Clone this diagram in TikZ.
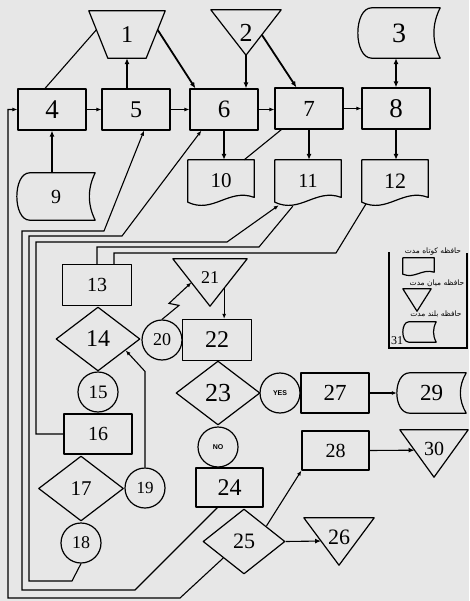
\documentclass[tikz,border=0pt]{standalone}
\usepackage{fontspec}
\setmainfont{Liberation Serif}
\newfontfamily\yesnofont{Liberation Sans}
\newfontfamily\persianfont[Script=Arabic]{DejaVu Sans}
\TeXXeTstate=1
\usetikzlibrary{arrows.meta,calc,shapes.geometric}
\definecolor{paper}{RGB}{231,231,231}
\newcommand{\fs}[1]{\fontsize{#1}{#1}\selectfont}
% outlines for the shapes that tikz does not have
\newcommand{\storage}[2]{%
  \draw[outline] ($(#1.north west)+(#2,0)$) -- (#1.north east)
    .. controls ($(#1.north east)!0.33!(#1.south east)+(-0.6*#2,0)$)
       and ($(#1.north east)!0.67!(#1.south east)+(-0.6*#2,0)$) .. (#1.south east)
    -- ($(#1.south west)+(#2,0)$)
    .. controls ($(#1.south west)+(-0.33*#2,0)$)
       and ($(#1.north west)+(-0.33*#2,0)$) .. cycle;}
\newcommand{\docshape}[2]{%
  \draw[outline] (#1.south west) -- (#1.north west) -- (#1.north east)
    -- ($(#1.south east)+(0,-0.4*#2)$)
    .. controls ($(#1.south west)!0.62!(#1.south east)+(0,-1.2*#2)$)
       and ($(#1.south west)!0.38!(#1.south east)+(0,#2)$) .. cycle;}
\newcommand{\tridown}[1]{%
  \draw[outline] (#1.north west) -- (#1.north east) -- (#1.south) -- cycle;}

\tikzset{
  outline/.style={line width=1.2pt, line join=round},
  blk/.style={draw, outline, minimum width=68pt, minimum height=41pt, inner sep=0pt},
  dec/.style={diamond, draw, outline, minimum width=84pt, minimum height=64pt, inner sep=0pt},
  con/.style={circle, draw, outline, minimum size=40pt, inner sep=0pt},
  hold/.style={inner sep=0pt},
  tri/.style={hold, text depth=9pt},
  wire/.style={line width=1.1pt},
  arr/.style={wire, -{Latex[length=5pt,width=4pt]}},
  harr/.style={line width=1.8pt, -{Latex[length=6pt,width=5pt]}},
  yn/.style={font=\yesnofont\bfseries\fs{7}},
  fa/.style={font=\persianfont\fs{7.5}, inner sep=0pt}
}

\begin{document}
\begin{tikzpicture}[x=1pt,y=-1pt]
  \fill[paper] (0,0) rectangle (469,601);
  \useasboundingbox (0,0) rectangle (469,601);

  % top row
  \node[hold, minimum width=76pt, minimum height=47pt, font=\fs{24}] (n1) at (127,34.5) {1};
  \node[hold, minimum width=70pt, minimum height=45pt, font=\fs{26}] (n2) at (246,32.5) {2};
  \node[hold, minimum width=82pt, minimum height=50pt, font=\fs{28}] (n3) at (399,33) {3};
  \node[blk, font=\fs{27}] (n4) at (52,109.5) {4};
  \node[blk, font=\fs{24}] (n5) at (136,109.5) {5};
  \node[blk, font=\fs{25}] (n6) at (224,109.5) {6};
  \node[blk, font=\fs{23}] (n7) at (309,108.5) {7};
  \node[blk, font=\fs{27}] (n8) at (396,108.5) {8};
  \node[hold, minimum width=78pt, minimum height=47pt, font=\fs{20}] (n9) at (56,196.5) {9};
  \node[hold, minimum width=66pt, minimum height=42pt, font=\fs{21}] (n10) at (221,181) {10};
  \node[hold, minimum width=66pt, minimum height=42pt, font=\fs{20}] (n11) at (308,181) {11};
  \node[hold, minimum width=66pt, minimum height=42pt, font=\fs{22}] (n12) at (395,181) {12};

  % left column
  \node[blk, minimum width=69pt, font=\fs{20}] (n13) at (97,285) {13};
  \node[dec, font=\fs{24}] (n14) at (98,339) {14};
  \node[con, font=\fs{19}] (n15) at (98,392) {15};
  \node[blk, minimum height=40pt, font=\fs{20}] (n16) at (98,434) {16};
  \node[dec, minimum width=85pt, minimum height=65pt, font=\fs{21}] (n17) at (81,488.5) {17};
  \node[con, font=\fs{18}] (n18) at (81,543) {18};
  \node[con, font=\fs{17}] (n19) at (145,488) {19};

  % middle column
  \node[con, font=\fs{18}] (n20) at (162,340) {20};
  \node[tri, minimum width=74pt, minimum height=47pt, font=\fs{18}] (n21) at (210,282.5) {21};
  \node[blk, minimum width=69pt, font=\fs{24}] (n22) at (217,340) {22};
  \node[dec, font=\fs{26}] (n23) at (218,393) {23};
  \node[con, yn] (nyes) at (280,393) {YES};
  \node[con, yn] (nno) at (218,447) {NO};
  \node[blk, minimum width=67pt, minimum height=39pt, font=\fs{24}] (n24) at (229.5,487.5) {24};
  \node[dec, minimum width=82pt, minimum height=65pt, font=\fs{22}] (n25) at (244,541.5) {25};
  \node[tri, minimum width=70pt, minimum height=47pt, font=\fs{22}] (n26) at (339,541.5) {26};
  \node[blk, minimum height=40pt, font=\fs{23}] (n27) at (335,393) {27};
  \node[blk, minimum width=67pt, minimum height=39pt, font=\fs{20}] (n28) at (335.5,450.5) {28};
  \node[hold, minimum width=69pt, minimum height=40pt, font=\fs{23}] (n29) at (431.5,393) {29};
  \node[tri, minimum width=68pt, minimum height=47pt, font=\fs{20}] (n30) at (434,453.5) {30};

  % legend
  \draw[line width=1.6pt] (389,252) -- (389,348) -- (467,348) -- (467,253);
  \node[fa] (t1) at (433,252) {\beginR حافظه کوتاه مدت\endR};
  \node[hold, minimum width=31pt, minimum height=16pt] (l1) at (418.5,266) {};
  \node[fa] (t2) at (437,283) {\beginR حافظه میان مدت\endR};
  \node[hold, minimum width=28pt, minimum height=22pt] (l2) at (417,300) {};
  \node[fa] (t3) at (436,314) {\beginR حافظه بلند مدت\endR};
  \node[hold, minimum width=33pt, minimum height=20pt] (l3) at (419.5,332) {};
  \node[font=\fs{12}, inner sep=0pt] (n31) at (397,341) {31};

  % outlines
  \draw[outline] (n1.north west) -- (n1.north east)
    -- ([xshift=-19pt]n1.south east) coordinate (n1-se)
    -- ([xshift=19pt]n1.south west) coordinate (n1-sw) -- cycle;
  \tridown{n2} \tridown{n21} \tridown{n26} \tridown{n30}
  \storage{n3}{14} \storage{n9}{13} \storage{n29}{13}
  \docshape{n10}{12} \docshape{n11}{12} \docshape{n12}{12}
  \docshape{l1}{5} \tridown{l2} \storage{l3}{6}

  % connectors
  \path
    (n4) [arr] edge (n5)
    (n5) [arr] edge (n6)
    (n6.east) [arr] edge (n6.east -| n7.west)
    (n7) [arr] edge (n8)
    (n27) [arr] edge (n29)
    (n1.south |- n5.north) [harr] edge (n1.south)
    (n4.south |- n9.north) [harr] edge (n4.south)
    (n2.south) [harr] edge (n2.south |- n6.north)
    (n6.south) [harr] edge (n6.south |- n10.north)
    (n7.south) [harr] edge (n7.south |- n11.north)
    (n8.south) [harr] edge (n8.south |- n12.north)
    (n25.east) [harr] edge ($(n26.north west)!0.49!(n26.south)$)
    (n28.east) [harr] edge ($(n30.north west)!0.43!(n30.south)$)
    (n25.north) ++(22.5,17.5) [arr] edge (n28.south west);
  \draw[harr, {Latex[length=6pt,width=5pt]}-{Latex[length=6pt,width=5pt]}]
    (n8.north |- n3.south) -- (n8.north);
  \draw[wire] ($(n4.north)+(-7,0)$) -- ($(n1.north west)!0.4!(n1-sw)$);
  \draw[harr] ($(n1.north east)!0.4!(n1-se)$) -- ($(n6.north west)+(6,0)$);
  \draw[harr] ($(n2.north east)!0.55!(n2.south)$) -- ($(n7.north west)+(22,0)$);
  \draw[wire] ($(n7.south west)+(7,0)$) -- ($(n10.north east)+(-10,0)$);

  \coordinate (n21-r) at ($(n21.north east)!0.62!(n21.south)$);
  \draw[arr] (n21-r) -- (n21-r |- n22.north);
  \draw[arr] (n20.north) -- ++(17,-14) -- ++(-10,-2) -- ($(n21.north west)!0.5!(n21.south)$);
  \draw[arr] (n19.north) -- ++(0,-96) -- ($(n14.east)!0.35!(n14.south)$);

  % feedback lines
  \draw[arr] ($(n25.west)!0.5!(n25.south)$) -- (180,598) -- (8,598) |- (n4.west);
  \draw[arr] ($(n24.south west)+(22,0)$) -- (135,590) -- (22,590) -- (22,231) -- (104,231) -- ($(n5.south)+(8,0)$);
  \draw[arr] (n18.south) -- (72,581) -- (29,581) -- (29,236) -- (122,236) -- ($(n6.south west)+(12,0)$);
  \draw[arr] (n16.west) -| (36,242) -- (227,242) -- ($(n11.south west)+(4,3)$);
  \draw[wire] (n13.north) |- (259,247) -- ($(n11.south west)+(18,4)$);
  \draw[wire] ($(n13.north)+(17,0)$) |- (336,253) -- ($(n12.south west)+(4,2)$);
\end{tikzpicture}
\end{document}
